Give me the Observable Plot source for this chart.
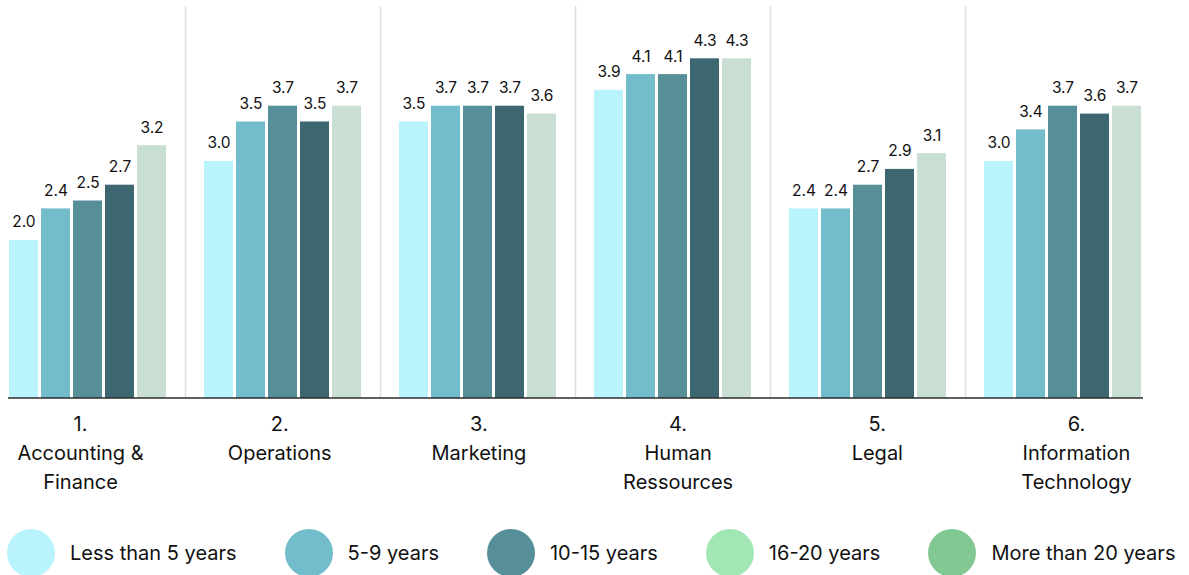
<!DOCTYPE html>
<html>
<head>
<meta charset="utf-8">
<script src="https://cdn.jsdelivr.net/npm/d3@7"></script>
<script src="https://cdn.jsdelivr.net/npm/@observablehq/plot@0.6"></script>
<style>
  body { margin: 0; background: #fff; font-family: Inter, "Noto Sans", sans-serif; }
  #legend { display: flex; align-items: center; margin-top: 24px; padding-left: 7px; gap: 48px; }
  .item { display: flex; align-items: center; gap: 15px; font-size: 20px; color: #111; white-space: nowrap; }
  .swatch { width: 48px; height: 48px; border-radius: 50%; flex: none; }
</style>
</head>
<body>
<div id="chart"></div>
<div id="legend"></div>
<script>
// Departments and their two-part axis labels
const departments = ["Accounting & Finance", "Operations", "Marketing", "Human Ressources", "Legal", "Information Technology"];
const deptLabels = ["1.\nAccounting &\nFinance", "2.\nOperations", "3.\nMarketing", "4.\nHuman\nRessources", "5.\nLegal", "6.\nInformation\nTechnology"];

// Tenure groups
const series = ["Less than 5 years", "5-9 years", "10-15 years", "16-20 years", "More than 20 years"];

// Average score per department, one array per tenure group
const lessThan5 = [2.0, 3.0, 3.5, 3.9, 2.4, 3.0];
const years5to9 = [2.4, 3.5, 3.7, 4.1, 2.4, 3.4];
const years10to15 = [2.5, 3.7, 3.7, 4.1, 2.7, 3.7];
const years16to20 = [2.7, 3.5, 3.7, 4.3, 2.9, 3.6];
const moreThan20 = [3.2, 3.7, 3.6, 4.3, 3.1, 3.7];

// Palettes: bar fills and legend swatches
const barColors = ["#b9f3fc", "#72bccb", "#578f99", "#3c6770", "#c9dfd4"];
const legendColors = ["#b9f3fc", "#72bccb", "#578f99", "#a1e6b3", "#82c893"];

const seriesValues = [lessThan5, years5to9, years10to15, years16to20, moreThan20];
const data = departments.flatMap((dept, i) =>
  series.map((s, j) => ({dept, series: s, value: seriesValues[j][i]}))
);

const W = 1189, H = 505;
const labelShift = i => -8 + 4.2 * i;

const plot = Plot.plot({
  width: W,
  height: H,
  marginLeft: 8,
  marginRight: 46,
  marginTop: 3,
  marginBottom: 107,
  style: {fontFamily: "Inter, 'Noto Sans', sans-serif", background: "#fff", color: "#111"},
  fx: {domain: departments, paddingInner: 0.18, paddingOuter: 0, axis: null},
  x: {domain: series, paddingInner: 0.08, paddingOuter: 0, axis: null},
  y: {domain: [0, 5], axis: null},
  color: {domain: series, range: barColors},
  marks: [
    Plot.barY(data, {fx: "dept", x: "series", y: "value", fill: "series"}),
    Plot.text(data, {
      fx: "dept", x: "series", y: "value",
      text: d => d.value.toFixed(1),
      dy: -18, fontSize: 15.5, fill: "#111"
    }),
    ...departments.map((dept, i) => Plot.text([dept], {
      fx: d => d,
      text: () => deptLabels[i],
      frameAnchor: "bottom",
      lineAnchor: "top",
      dy: 12,
      dx: labelShift(i),
      fontSize: 20,
      lineHeight: 1.45,
      fill: "#111"
    }))
  ]
});

// Group separators and the shared baseline, placed with the plot's own scales
const svg = d3.select(plot);
const fx = plot.scale("fx");
const y = plot.scale("y");
const band = d3.scaleBand().domain(fx.domain).range(fx.range)
  .paddingInner(fx.paddingInner ?? 0.18).paddingOuter(fx.paddingOuter ?? 0);
const fxPos = d => (fx.apply ? fx.apply(d) : band(d));
const bw = fx.bandwidth ?? band.bandwidth();
const step = fx.step ?? band.step();
const yBase = y.apply ? y.apply(0) : d3.scaleLinear(y.domain, y.range)(0);
const yTop = Math.min(...y.range) + 3;

const sepG = svg.insert("g", "g");
departments.slice(0, -1).forEach(d => {
  const x = fxPos(d) + bw + (step - bw) / 2;
  sepG.append("line")
    .attr("x1", x).attr("x2", x)
    .attr("y1", yTop).attr("y2", yBase)
    .attr("stroke", "#dedede").attr("stroke-width", 1.5);
});
svg.append("line")
  .attr("x1", fx.range[0]).attr("x2", fx.range[1])
  .attr("y1", yBase).attr("y2", yBase)
  .attr("stroke", "#2b2b2b").attr("stroke-width", 1.5);

document.getElementById("chart").append(plot);

// Legend
const legend = d3.select("#legend");
series.forEach((s, i) => {
  const item = legend.append("div").attr("class", "item");
  item.append("div").attr("class", "swatch").style("background", legendColors[i]);
  item.append("span").text(s);
});
</script>
</body>
</html>
